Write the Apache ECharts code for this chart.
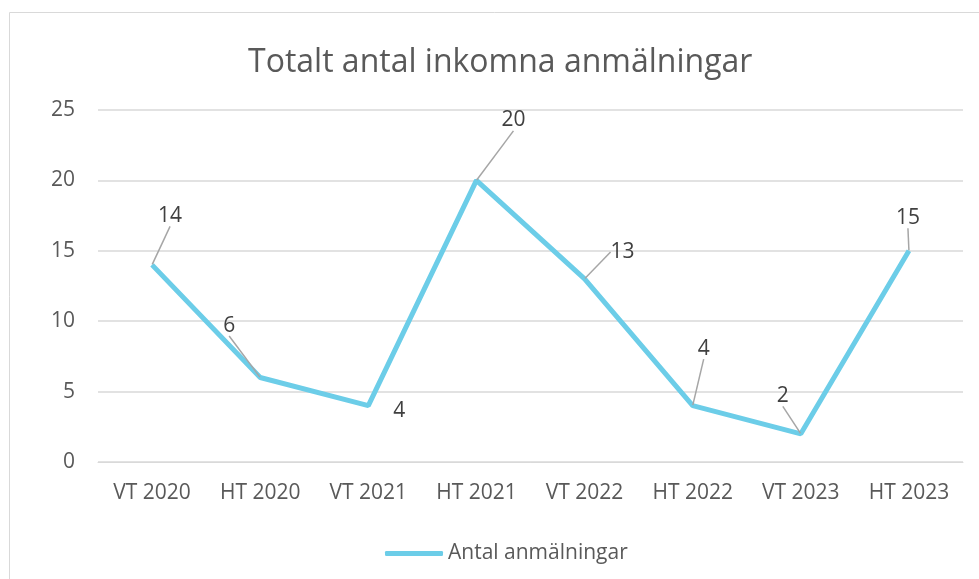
<!DOCTYPE html>
<html>
<head>
<meta charset="utf-8">
<script src="https://cdn.jsdelivr.net/npm/echarts@6/dist/echarts.min.js"></script>
<style>html,body{margin:0;padding:0;background:#fff}#c{width:979px;height:579px}</style>
</head>
<body>
<div id="c"></div>
<script>
const titleText = 'Totalt antal inkomna anmälningar';
const seriesName = 'Antal anmälningar';
const categories = ['VT 2020','HT 2020','VT 2021','HT 2021','VT 2022','HT 2022','VT 2023','HT 2023'];
const values = [14, 6, 4, 20, 13, 4, 2, 15];
const yTicks = {min: 0, max: 25, interval: 5};
// label offsets relative to point (px), leader lines drawn by ECharts
const labelOffsets = [[18,-49],[-31,-52],[31,5],[37,-60],[38,-27],[11,-57],[-18,-38],[-1,-33]];
const noLeader = [2];

const font = 'Open Sans';
const chart = echarts.init(document.getElementById('c'));
chart.setOption({
  animation: false,
  title: {text: titleText, left: 243, top: 42,
    textStyle: {fontFamily: font, fontSize: 32, fontWeight: 'normal', color: '#595959'}},
  graphic: [{type: 'rect', shape: {x: 9.5, y: 12.5, width: 1000, height: 600},
    style: {fill: 'none', stroke: '#d9d9d9', lineWidth: 1}, silent: true}],
  grid: {left: 98, right: 16, top: 110, bottom: 117},
  legend: {bottom: 10, left: 380, itemWidth: 58, itemHeight: 5, itemGap: 5,
    textStyle: {fontFamily: font, fontSize: 21, color: '#595959'},
    icon: 'roundRect', data: [seriesName]},
  xAxis: {type: 'category', data: categories, boundaryGap: true,
    axisLine: {lineStyle: {color: '#d9d9d9', width: 1}}, axisTick: {show: false},
    axisLabel: {fontFamily: font, fontSize: 21, color: '#595959', margin: 21}},
  yAxis: {type: 'value', min: yTicks.min, max: yTicks.max, interval: yTicks.interval,
    axisLine: {show: false}, axisTick: {show: false},
    axisLabel: {fontFamily: font, fontSize: 21, color: '#595959', margin: 23},
    splitLine: {lineStyle: {color: '#d9d9d9', width: 1.5}}},
  series: [{
    name: seriesName, type: 'line',
    data: values.map((v, i) => noLeader.includes(i) ? {value: v, labelLine: {show: false}} : v),
    symbol: 'circle', symbolSize: 1, showSymbol: true,
    itemStyle: {color: '#6ccde8'},
    lineStyle: {color: '#6ccde8', width: 5},
    label: {show: true, position: 'inside', fontFamily: font, fontSize: 21, color: '#404040'},
    labelLine: {show: true, lineStyle: {color: '#a6a6a6', width: 1.5}},
    labelLayout: function (p) {
      const o = labelOffsets[p.dataIndex];
      return {dx: o[0], dy: o[1]};
    }
  }]
});
</script>
</body>
</html>
